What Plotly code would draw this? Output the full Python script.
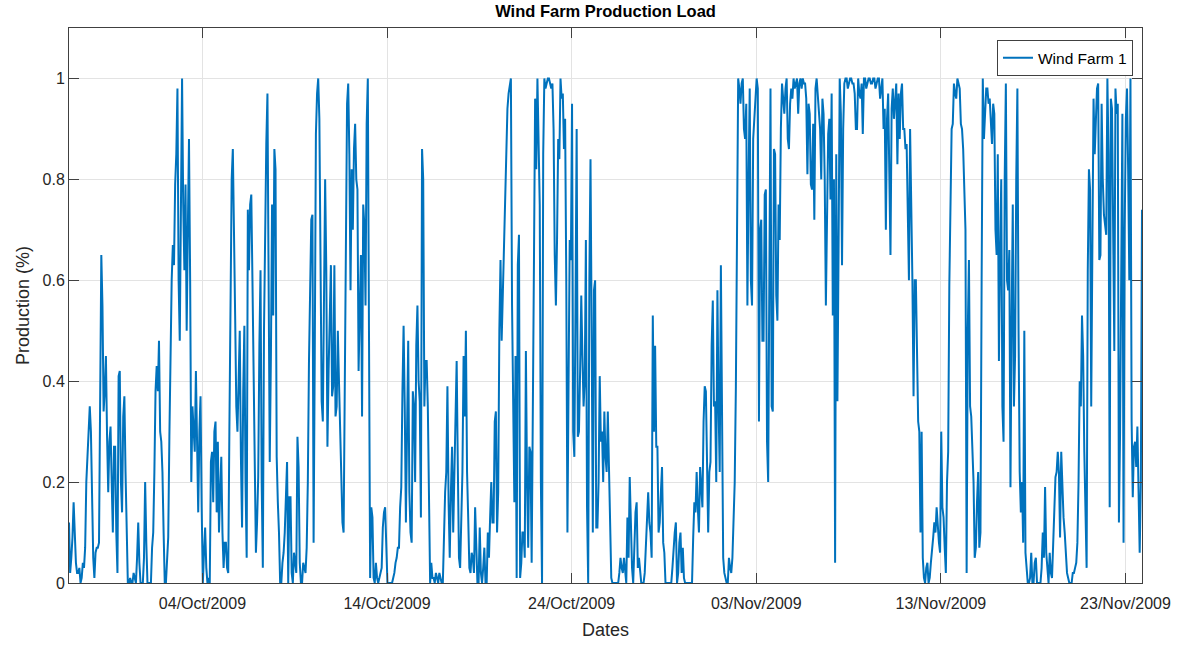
import pandas as pd
import plotly.graph_objects as go

# Normalised production of Wind Farm 1.
# Two interleaved sets of 3-hourly readings: one at hh:30 starting
# 26/Sep 18:30, the other 90 minutes later.
first_start = "2009-09-26 18:30"
second_start = "2009-09-26 20:00"
step = "3h"

production_a = [
    # 26 Sep - 01 Oct
    0.12, 0.05, 0.16, 0.04, 0.02, 0.00, 0.04, 0.07, 0.26, 0.35, 0.18, 0.01, 0.07,
    0.08, 0.65, 0.34, 0.45, 0.18, 0.31, 0.10, 0.27, 0.02, 0.42, 0.14, 0.37, 0.06,
    0.00, 0.00, 0.02, 0.00, 0.12, 0.00, 0.00, 0.20, 0.00, 0.00, 0.07, 0.22, 0.43,
    # 01 Oct - 06 Oct
    0.48, 0.28, 0.10, 0.00, 0.09, 0.51, 0.67, 0.79, 0.98, 0.48, 1.00, 0.62, 0.50,
    0.88, 0.20, 0.31, 0.42, 0.14, 0.37, 0.00, 0.11, 0.00, 0.00, 0.26, 0.30, 0.14,
    0.10, 0.25, 0.03, 0.08, 0.02, 0.58, 0.86, 0.53, 0.30, 0.50, 0.11, 0.51, 0.05,
    # 06 Oct - 11 Oct
    0.62, 0.77, 0.42, 0.06, 0.21, 0.62, 0.03, 0.70, 0.97, 0.24, 0.75, 0.86, 0.25,
    0.10, 0.00, 0.06, 0.19, 0.00, 0.17, 0.00, 0.04, 0.29, 0.04, 0.00, 0.03, 0.07,
    0.44, 0.72, 0.08, 0.89, 1.00, 0.57, 0.32, 0.80, 0.27, 0.55, 0.37, 0.63, 0.35,
    # 11 Oct - 16 Oct
    0.40, 0.26, 0.10, 0.74, 0.99, 0.58, 0.70, 0.91, 0.78, 0.54, 0.33, 0.71, 0.91,
    0.50, 0.15, 0.01, 0.04, 0.00, 0.02, 0.11, 0.15, 0.00, 0.00, 0.00, 0.02, 0.05,
    0.07, 0.19, 0.51, 0.12, 0.48, 0.10, 0.38, 0.20, 0.55, 0.36, 0.86, 0.35, 0.44,
    # 16 Oct - 21 Oct
    0.10, 0.04, 0.01, 0.02, 0.00, 0.01, 0.00, 0.18, 0.39, 0.05, 0.27, 0.20, 0.44,
    0.05, 0.16, 0.45, 0.50, 0.13, 0.02, 0.05, 0.15, 0.00, 0.11, 0.00, 0.07, 0.00,
    0.05, 0.20, 0.12, 0.34, 0.18, 0.64, 0.57, 0.77, 0.94, 0.99, 0.55, 0.16, 0.01,
    # 21 Oct - 26 Oct
    0.69, 0.04, 0.10, 0.46, 0.07, 0.26, 0.48, 0.96, 1.00, 0.75, 0.00, 1.00, 0.99,
    1.00, 0.98, 0.90, 0.55, 0.88, 1.00, 0.97, 0.92, 0.10, 0.68, 0.95, 0.25, 0.90,
    0.30, 0.57, 0.35, 0.68, 0.00, 0.84, 0.10, 0.60, 0.11, 0.41, 0.30, 0.34, 0.22,
    # 26 Oct - 31 Oct
    0.22, 0.01, 0.00, 0.00, 0.00, 0.05, 0.02, 0.03, 0.13, 0.21, 0.03, 0.07, 0.16,
    0.05, 0.00, 0.00, 0.08, 0.18, 0.10, 0.53, 0.47, 0.27, 0.12, 0.23, 0.06, 0.00,
    0.00, 0.00, 0.07, 0.12, 0.02, 0.10, 0.07, 0.00, 0.00, 0.00, 0.00, 0.16, 0.22,
    # 31 Oct - 05 Nov
    0.10, 0.19, 0.32, 0.38, 0.10, 0.24, 0.56, 0.36, 0.58, 0.22, 0.35, 0.02, 0.00,
    0.05, 0.02, 0.11, 0.39, 1.00, 0.95, 1.00, 0.88, 0.55, 0.98, 0.55, 0.93, 1.00,
    0.32, 0.72, 0.48, 0.78, 0.20, 0.98, 0.34, 0.85, 0.52, 0.68, 0.99, 0.93, 1.00,
    # 05 Nov - 10 Nov
    0.86, 0.98, 1.00, 0.99, 0.93, 1.00, 1.00, 0.99, 0.81, 0.93, 0.78, 0.72, 1.00,
    0.92, 0.80, 0.93, 0.55, 0.89, 0.76, 0.53, 0.04, 0.36, 1.00, 0.63, 0.99, 1.00,
    0.99, 1.00, 0.99, 0.90, 1.00, 0.96, 0.89, 1.00, 0.99, 1.00, 0.99, 1.00, 0.99,
    # 10 Nov - 15 Nov
    1.00, 0.98, 0.90, 0.70, 0.97, 0.65, 0.98, 0.96, 0.83, 0.88, 0.99, 0.90, 0.87,
    0.60, 0.78, 0.37, 0.60, 0.32, 0.10, 0.05, 0.00, 0.04, 0.01, 0.06, 0.12, 0.15,
    0.08, 0.30, 0.13, 0.02, 0.26, 0.75, 0.91, 0.97, 1.00, 0.98, 0.90, 0.75, 0.02,
    # 15 Nov - 20 Nov
    0.64, 0.33, 0.20, 0.07, 0.22, 0.10, 1.00, 0.92, 0.98, 0.96, 0.87, 0.93, 0.65,
    0.44, 0.80, 0.28, 0.99, 0.58, 0.19, 0.75, 0.45, 0.98, 0.22, 0.20, 0.50, 0.02,
    0.00, 0.06, 0.00, 0.05, 0.00, 0.00, 0.10, 0.19, 0.03, 0.06, 0.01, 0.16, 0.22,
    # 20 Nov - 23 Nov
    0.22, 0.26, 0.13, 0.05, 0.01, 0.00, 0.02, 0.03, 0.08, 0.40, 0.53, 0.26, 0.03,
    0.82, 0.35, 0.96, 0.93, 0.99, 0.65, 0.80, 0.71, 1.00, 0.15, 0.94, 0.46, 0.93,
    0.12, 0.60, 0.08, 0.92, 0.82, 1.00, 0.17, 0.28, 0.31, 0.06, 0.74,
]

production_b = [
    # 26 Sep - 01 Oct
    0.02, 0.09, 0.10, 0.02, 0.03, 0.01, 0.03, 0.20, 0.30, 0.30, 0.05, 0.06, 0.07,
    0.30, 0.55, 0.38, 0.29, 0.28, 0.20, 0.27, 0.10, 0.41, 0.20, 0.33, 0.22, 0.00,
    0.01, 0.00, 0.01, 0.05, 0.04, 0.00, 0.05, 0.08, 0.00, 0.00, 0.10, 0.38, 0.38,
    # 01 Oct - 06 Oct
    0.30, 0.22, 0.00, 0.05, 0.29, 0.60, 0.63, 0.85, 0.60, 0.70, 0.75, 0.79, 0.70,
    0.60, 0.35, 0.26, 0.25, 0.30, 0.15, 0.06, 0.03, 0.01, 0.24, 0.16, 0.32, 0.28,
    0.18, 0.10, 0.08, 0.03, 0.30, 0.80, 0.62, 0.35, 0.40, 0.25, 0.38, 0.20, 0.74,
    # 06 Oct - 11 Oct
    0.75, 0.60, 0.18, 0.12, 0.47, 0.20, 0.50, 0.87, 0.67, 0.45, 0.53, 0.82, 0.16,
    0.00, 0.04, 0.10, 0.24, 0.17, 0.02, 0.06, 0.02, 0.23, 0.00, 0.04, 0.02, 0.20,
    0.55, 0.73, 0.45, 0.97, 0.92, 0.36, 0.56, 0.62, 0.42, 0.63, 0.39, 0.33, 0.50,
    # 11 Oct - 16 Oct
    0.30, 0.12, 0.40, 0.95, 0.85, 0.82, 0.86, 0.80, 0.42, 0.65, 0.75, 0.55, 1.00,
    0.01, 0.13, 0.00, 0.01, 0.01, 0.03, 0.14, 0.06, 0.00, 0.00, 0.01, 0.04, 0.07,
    0.15, 0.38, 0.35, 0.30, 0.18, 0.08, 0.35, 0.47, 0.40, 0.13, 0.80, 0.44, 0.35,
    # 16 Oct - 21 Oct
    0.00, 0.01, 0.00, 0.01, 0.02, 0.00, 0.10, 0.22, 0.16, 0.18, 0.10, 0.30, 0.23,
    0.03, 0.22, 0.33, 0.22, 0.03, 0.06, 0.02, 0.04, 0.00, 0.02, 0.03, 0.00, 0.10,
    0.13, 0.12, 0.32, 0.10, 0.50, 0.48, 0.70, 0.88, 0.97, 1.00, 0.30, 0.45, 0.63,
    # 21 Oct - 26 Oct
    0.01, 0.10, 0.05, 0.20, 0.27, 0.04, 0.64, 0.82, 0.82, 0.20, 0.85, 0.98, 1.00,
    0.99, 0.99, 0.65, 0.68, 0.84, 0.96, 0.86, 0.60, 0.40, 0.64, 0.30, 0.55, 0.29,
    0.42, 0.45, 0.40, 0.15, 0.60, 0.50, 0.58, 0.11, 0.20, 0.28, 0.20, 0.25, 0.34,
    # 26 Oct - 31 Oct
    0.08, 0.00, 0.00, 0.00, 0.02, 0.03, 0.05, 0.00, 0.05, 0.11, 0.00, 0.14, 0.03,
    0.02, 0.00, 0.02, 0.15, 0.12, 0.05, 0.30, 0.27, 0.10, 0.18, 0.08, 0.00, 0.00,
    0.00, 0.03, 0.10, 0.00, 0.08, 0.02, 0.01, 0.00, 0.00, 0.00, 0.09, 0.14, 0.15,
    # 31 Oct - 05 Nov
    0.23, 0.15, 0.39, 0.24, 0.22, 0.47, 0.35, 0.20, 0.35, 0.63, 0.05, 0.01, 0.00,
    0.03, 0.05, 0.20, 0.72, 0.98, 0.99, 0.90, 0.95, 0.80, 0.60, 0.88, 0.97, 0.98,
    0.70, 0.48, 0.77, 0.28, 0.60, 0.35, 0.86, 0.57, 0.75, 0.90, 0.96, 0.98, 0.88,
    # 05 Nov - 10 Nov
    0.95, 0.96, 0.98, 1.00, 0.99, 0.98, 0.99, 0.96, 0.95, 0.79, 0.91, 0.98, 0.96,
    0.90, 0.96, 0.80, 0.79, 0.92, 0.97, 0.80, 0.85, 0.66, 0.93, 0.90, 1.00, 0.98,
    1.00, 0.99, 0.97, 0.90, 0.97, 0.99, 1.00, 0.98, 1.00, 0.99, 1.00, 0.98, 1.00,
    # 10 Nov - 15 Nov
    0.96, 1.00, 0.94, 0.92, 0.80, 0.94, 0.92, 0.99, 0.97, 0.97, 0.90, 0.86, 0.70,
    0.90, 0.60, 0.60, 0.40, 0.30, 0.30, 0.01, 0.03, 0.00, 0.04, 0.09, 0.10, 0.11,
    0.06, 0.15, 0.07, 0.20, 0.59, 0.90, 0.99, 0.96, 0.99, 0.91, 0.86, 0.70, 0.50,
    # 15 Nov - 20 Nov
    0.35, 0.25, 0.05, 0.16, 0.07, 0.60, 0.88, 0.98, 0.95, 0.90, 0.95, 0.70, 0.85,
    0.65, 0.35, 0.80, 0.60, 0.66, 0.52, 0.35, 0.80, 0.50, 0.14, 0.08, 0.06, 0.00,
    0.01, 0.00, 0.04, 0.00, 0.00, 0.03, 0.05, 0.06, 0.00, 0.02, 0.09, 0.21, 0.26,
    # 20 Nov - 23 Nov
    0.09, 0.17, 0.10, 0.02, 0.00, 0.00, 0.02, 0.04, 0.20, 0.35, 0.45, 0.10, 0.62,
    0.78, 0.67, 0.85, 0.98, 0.64, 0.95, 0.73, 0.69, 0.85, 0.96, 0.74, 0.98, 0.95,
    0.30, 0.93, 0.70, 0.98, 0.60, 0.32, 0.27, 0.23, 0.20, 0.20,
]

date_ticks = ["2009-10-04", "2009-10-14", "2009-10-24",
              "2009-11-03", "2009-11-13", "2009-11-23"]
date_tick_labels = ["04/Oct/2009", "14/Oct/2009", "24/Oct/2009",
                    "03/Nov/2009", "13/Nov/2009", "23/Nov/2009"]
y_ticks = [0, 0.2, 0.4, 0.6, 0.8, 1]
y_tick_labels = ["0", "0.2", "0.4", "0.6", "0.8", "1"]

series = pd.concat([
    pd.Series(production_a,
              index=pd.date_range(first_start, periods=len(production_a), freq=step)),
    pd.Series(production_b,
              index=pd.date_range(second_start, periods=len(production_b), freq=step)),
]).sort_index()

font_family = "Liberation Sans, Arial, Helvetica, sans-serif"
text_color = "#262626"
axis_color = "#404040"
grid_color = "#e3e3e3"

fig = go.Figure()
fig.add_trace(go.Scatter(
    x=series.index, y=series.values, mode="lines", name="Wind Farm 1",
    line=dict(color="#0072BD", width=2),
))

axis_common = dict(
    showline=True, linecolor=axis_color, linewidth=1, mirror="ticks",
    ticks="inside", ticklen=10, tickcolor=axis_color, tickwidth=1,
    showgrid=True, gridcolor=grid_color, gridwidth=1, zeroline=False,
    automargin=False,
    tickfont=dict(family=font_family, size=16, color=text_color),
)

fig.update_layout(
    width=1192, height=646,
    margin=dict(l=69, r=50, t=28, b=63),
    paper_bgcolor="white", plot_bgcolor="white",
    title=dict(text="<b>Wind Farm Production Load</b>", x=0.508, xanchor="center",
               y=0.982, yanchor="middle",
               font=dict(family=font_family, size=16.5, color="black")),
    xaxis=dict(
        range=[series.index[0], series.index[-1]],
        tickmode="array", tickvals=date_ticks, ticktext=date_tick_labels,
        ticklabelstandoff=6,
        title=dict(text="Dates", standoff=12,
                   font=dict(family=font_family, size=18, color=text_color)),
        **axis_common,
    ),
    yaxis=dict(
        range=[0, 1.1],
        tickmode="array", tickvals=y_ticks, ticktext=y_tick_labels,
        title=dict(text="Production (%)", standoff=8,
                   font=dict(family=font_family, size=18, color=text_color)),
        **axis_common,
    ),
    showlegend=True,
    legend=dict(
        x=0.9916, xanchor="right", y=0.978, yanchor="top",
        bgcolor="white", bordercolor=axis_color, borderwidth=1,
        font=dict(family=font_family, size=15.5, color="black"),
        itemwidth=30, tracegroupgap=0,
    ),
)

fig.write_html("out.html")
